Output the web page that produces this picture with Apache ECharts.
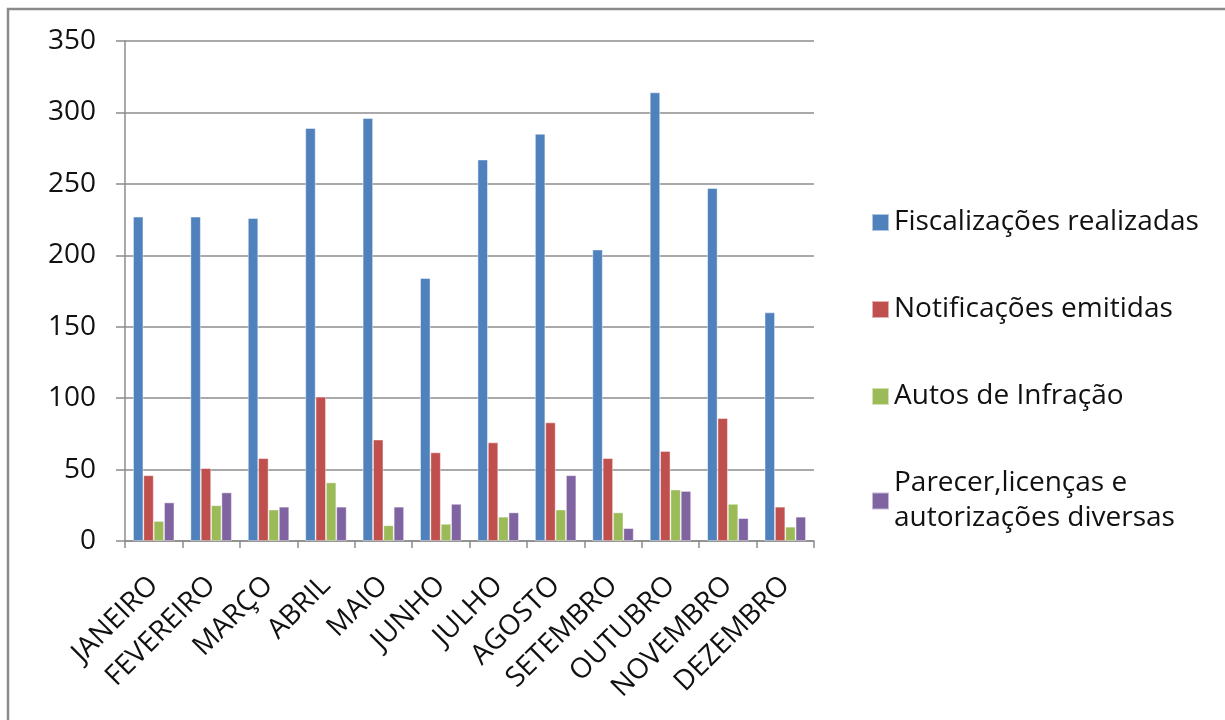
<!DOCTYPE html>
<html><head><meta charset="utf-8">
<script src="https://cdn.jsdelivr.net/npm/echarts@6/dist/echarts.min.js"></script>
<style>html,body{margin:0;padding:0;background:#fff}#c{width:1225px;height:720px}</style>
</head><body><div id="c"></div>
<script>
const months = ['JANEIRO','FEVEREIRO','MARÇO','ABRIL','MAIO','JUNHO','JULHO','AGOSTO','SETEMBRO','OUTUBRO','NOVEMBRO','DEZEMBRO'];
const fiscalizacoes = [227, 227, 226, 289, 296, 184, 267, 285, 204, 314, 247, 160];
const notificacoes = [46, 51, 58, 101, 71, 62, 69, 83, 58, 63, 86, 24];
const autos = [14, 25, 22, 41, 11, 12, 17, 22, 20, 36, 26, 10];
const pareceres = [27, 34, 24, 24, 24, 26, 20, 46, 9, 35, 16, 17];
const seriesNames = ['Fiscalizações realizadas','Notificações emitidas','Autos de Infração','Parecer,licenças e autorizações diversas'];
const yTicks = [0, 50, 100, 150, 200, 250, 300, 350];

const colors = ['#4F81BD','#C0504D','#9BBB59','#8064A2'];
const font = 'Open Sans';
const chart = echarts.init(document.getElementById('c'));
const mk = (name, data, i) => ({
  name, type: 'bar', data,
  barGap: '0%', barCategoryGap: '28%',
  itemStyle: { color: colors[i], borderColor: 'rgba(255,255,255,0.55)', borderWidth: 0.8 }
});
chart.setOption({
  animation: false,
  color: colors,
  graphic: [{
    type: 'rect', shape: { x: 8, y: 9, width: 1240, height: 740 },
    style: { fill: 'none', stroke: '#8a8a8a', lineWidth: 2.5 }, silent: true
  }],
  grid: { left: 125, right: 411, top: 41, bottom: 179 },
  legend: {
    orient: 'vertical', left: 866, top: 200,
    itemWidth: 17, itemHeight: 17, itemGap: 52,
    icon: 'rect',
    textStyle: { fontFamily: font, fontSize: 28, color: '#111', lineHeight: 35, padding: [0, 0, 0, 0] },
    formatter: n => n === seriesNames[3] ? 'Parecer,licenças e\nautorizações diversas' : n,
    data: seriesNames
  },
  xAxis: {
    type: 'category', data: months,
    axisLine: { lineStyle: { color: '#8c8c8c', width: 1.5 } },
    axisTick: { show: true, alignWithLabel: false, length: 7, lineStyle: { color: '#8c8c8c', width: 1.5 } },
    axisLabel: { rotate: 45, margin: 40, fontFamily: font, fontSize: 28, color: '#111', interval: 0 }
  },
  yAxis: {
    type: 'value', min: 0, max: 350, interval: 50,
    axisLine: { show: true, lineStyle: { color: '#8c8c8c', width: 1.5 } },
    axisTick: { show: true, length: 9, lineStyle: { color: '#8c8c8c', width: 1.5 } },
    splitLine: { lineStyle: { color: '#8c8c8c', width: 1.5 } },
    axisLabel: { margin: 29, fontFamily: font, fontSize: 28, color: '#111',
      formatter: v => yTicks.includes(v) ? String(v) : '' }
  },
  series: [
    mk(seriesNames[0], fiscalizacoes, 0),
    mk(seriesNames[1], notificacoes, 1),
    mk(seriesNames[2], autos, 2),
    mk(seriesNames[3], pareceres, 3)
  ]
});
</script></body></html>
